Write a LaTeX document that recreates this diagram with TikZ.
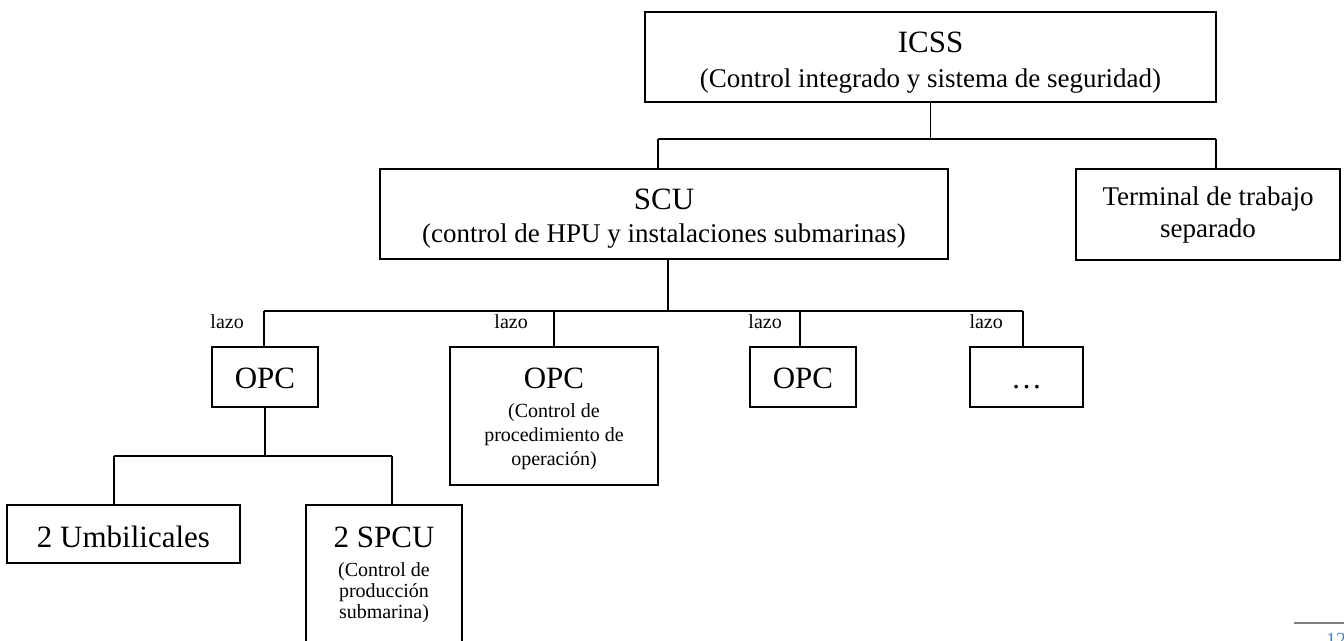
\documentclass[tikz,border=0pt]{standalone}
\usepackage{fontspec}
\setmainfont{Liberation Serif}
\definecolor{pgblue}{RGB}{79,129,189}
\begin{document}
\begin{tikzpicture}[x=1pt,y=-1pt,
  box/.style={draw, line width=1.7pt, inner sep=0pt},
  conn/.style={line width=1.7pt},
  big/.style={anchor=base, inner sep=0pt, font=\fontsize{31}{31}\selectfont},
  mid/.style={anchor=base, inner sep=0pt, font=\fontsize{27}{27}\selectfont},
  sml/.style={anchor=base, inner sep=0pt, font=\fontsize{20}{20}\selectfont},
  lazolbl/.style={anchor=base east, inner sep=0pt, font=\fontsize{20}{20}\selectfont}]
\useasboundingbox (0,0) rectangle (1344,640);
\clip (0,0) rectangle (1344,640);
% boxes
\node[box, minimum width=571, minimum height=90] (icss) at (930.5,57) {};
\node[box, minimum width=568, minimum height=90] (scu) at (664,214) {};
\node[box, minimum width=264, minimum height=91] (term) at (1208,214.5) {};
\node[box, minimum width=106, minimum height=60] (opc1) at (265,377) {};
\node[box, minimum width=208, minimum height=138] (opc2) at (554,416) {};
\node[box, minimum width=106, minimum height=60] (opc3) at (803,377) {};
\node[box, minimum width=113, minimum height=60] (dots) at (1026.5,377) {};
\node[box, minimum width=233, minimum height=58] (umb) at (123.5,534) {};
\node[box, minimum width=156, minimum height=140] (spcu) at (384,575) {};
% texts
\node[big] (icssA) at (icss.center |- 0,52) {ICSS};
\node[mid] (icssB) at (icss.center |- 0,87) {(Control integrado y sistema de seguridad)};
\node[big] (scuA) at (scu.center |- 0,209) {SCU};
\node[mid] (scuB) at (scu.center |- 0,242) {(control de HPU y instalaciones submarinas)};
\node[mid] (termA) at (term.center |- 0,205) {Terminal de trabajo};
\node[mid] (termB) at (term.center |- 0,237) {separado};
\node[big] (opc1A) at (opc1.center |- 0,388) {OPC};
\node[big] (opc2A) at (opc2.center |- 0,388) {OPC};
\node[sml] (opc2B) at (opc2.center |- 0,417) {(Control de};
\node[sml] (opc2C) at (opc2.center |- 0,441) {procedimiento de};
\node[sml] (opc2D) at (opc2.center |- 0,465) {operación)};
\node[big] (opc3A) at (opc3.center |- 0,388) {OPC};
\node[big] (dotsA) at (dots.center |- 0,388) {\dots};
\node[big] (umbA) at (umb.center |- 0,547) {2 Umbilicales};
\node[big] (spcuA) at (spcu.center |- 0,547) {2 SPCU};
\node[sml] (spcuB) at (spcu.center |- 0,576) {(Control de};
\node[sml] (spcuC) at (spcu.center |- 0,597) {producción};
\node[sml] (spcuD) at (spcu.center |- 0,618) {submarina)};
% level 1 connectors
\coordinate (b1) at (658,139);
\coordinate (b2) at (1216,139);
\draw[conn] (icss.south) -- (icss.south |- b1);
\draw[conn] (b1) -- (b2);
\draw[conn] (b1) -- (b1 |- scu.north);
\draw[conn] (b2) -- (b2 |- term.north);
% level 2 connectors
\coordinate (c1) at (264,311);
\coordinate (c2) at (1023,311);
\coordinate (sx) at (668,0);
\coordinate (s3) at (800,0);
\draw[conn] (scu.south -| sx) -- (c1 -| sx);
\draw[conn] (c1) -- (c2);
\draw[conn] (c1) -- (c1 |- opc1.north);
\draw[conn] (opc2.north |- c1) -- (opc2.north);
\draw[conn] (c1 -| s3) -- (opc3.north -| s3);
\draw[conn] (c2) -- (c2 |- dots.north);
\node[lazolbl] (l1) at (244,328) {lazo};
\node[lazolbl] (l2) at (528,328) {lazo};
\node[lazolbl] (l3) at (782,328) {lazo};
\node[lazolbl] (l4) at (1003,328) {lazo};
% level 3 connectors
\coordinate (d1) at (114,456);
\coordinate (d2) at (392,456);
\draw[conn] (opc1.south) -- (opc1.south |- d1);
\draw[conn] (d1) -- (d2);
\draw[conn] (d1) -- (d1 |- umb.north);
\draw[conn] (d2) -- (d2 |- spcu.north);
% page footer fragment
\draw[gray, line width=1.5pt] (1294,623) -- (1344,623);
\node[anchor=north west, inner sep=0pt, text=pgblue, font=\fontsize{20}{20}\selectfont] (pg) at (1326,633) {12};
\end{tikzpicture}
\end{document}
